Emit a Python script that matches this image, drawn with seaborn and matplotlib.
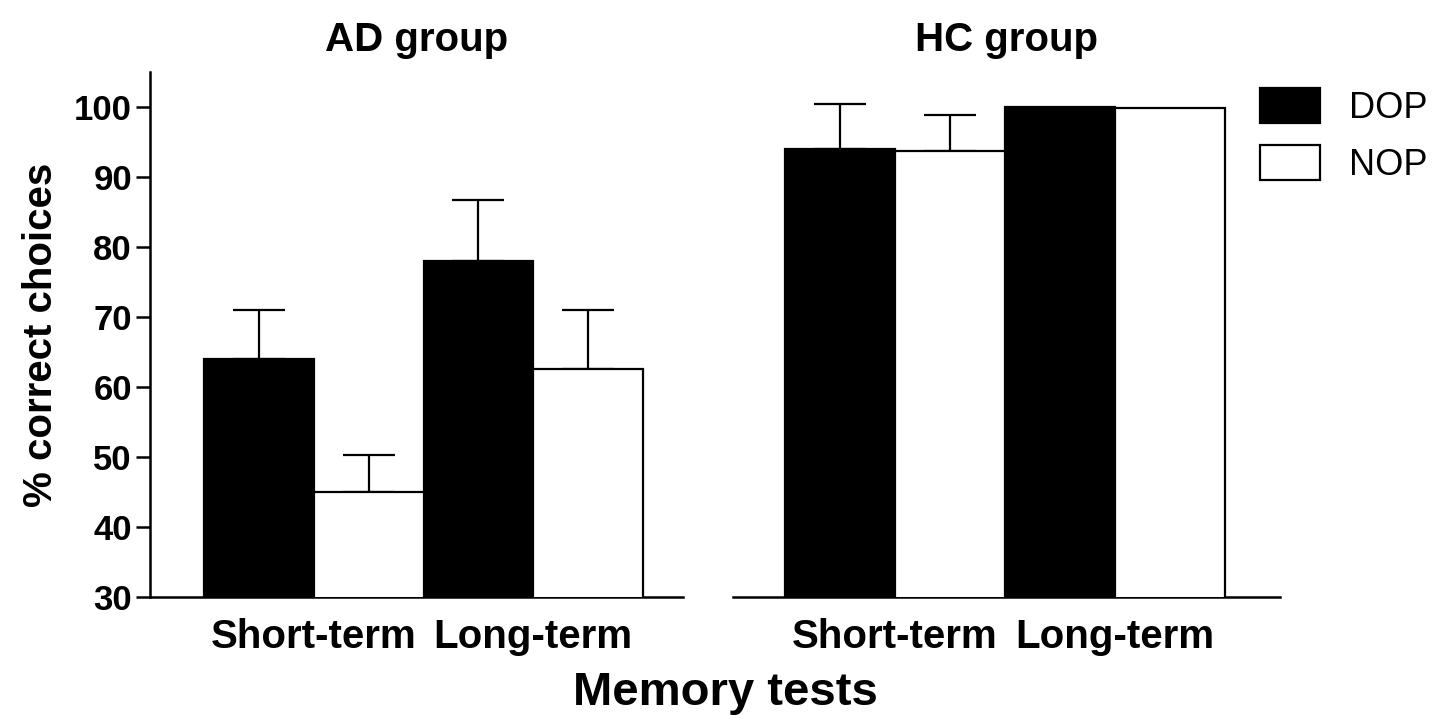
import numpy as np
import pandas as pd
import matplotlib
matplotlib.use("Agg")
import matplotlib.pyplot as plt
import seaborn as sns
from matplotlib.patches import Patch

groups = ["AD group", "HC group"]
tests = ["Short-term", "Long-term"]
conditions = ["DOP", "NOP"]

ad_dop = [64.0, 78.0]
ad_nop = [45.0, 62.5]
hc_dop = [94.0, 100.0]
hc_nop = [93.7, 99.8]

ad_dop_err = [7.0, 8.7]
ad_nop_err = [5.3, 8.5]
hc_dop_err = [6.4, 0.0]
hc_nop_err = [5.2, 0.0]

yticks = [30, 40, 50, 60, 70, 80, 90, 100]

values = {("AD group", "DOP"): ad_dop, ("AD group", "NOP"): ad_nop,
          ("HC group", "DOP"): hc_dop, ("HC group", "NOP"): hc_nop}
errors = {("AD group", "DOP"): ad_dop_err, ("AD group", "NOP"): ad_nop_err,
          ("HC group", "DOP"): hc_dop_err, ("HC group", "NOP"): hc_nop_err}

rows = []
for g in groups:
    for c in conditions:
        for t, v, e in zip(tests, values[(g, c)], errors[(g, c)]):
            rows.append({"group": g, "test": t, "cond": c, "value": v, "err": e})
df = pd.DataFrame(rows)

sns.set_style("ticks")
plt.rcParams["font.family"] = ["Liberation Sans", "DejaVu Sans"]
plt.rcParams["text.color"] = "black"
plt.rcParams["axes.labelcolor"] = "black"
plt.rcParams["xtick.color"] = "black"
plt.rcParams["ytick.color"] = "black"
plt.rcParams["axes.edgecolor"] = "black"

fig = plt.figure(figsize=(14.5, 7.15), dpi=100)
H = 715.0
W = 1450.0
bottom = 1 - 597 / H
top = 1 - 72 / H
ax1 = fig.add_axes([150 / W, bottom, (683 - 150) / W, top - bottom])
ax2 = fig.add_axes([733 / W, bottom, (1280 - 733) / W, top - bottom])

palette = {"DOP": "black", "NOP": "white"}
xlims = [(-0.746, 1.682), (-0.736, 1.75)]

for ax, g, xl in zip([ax1, ax2], groups, xlims):
    sub = df[df["group"] == g]
    sns.barplot(data=sub, x="test", y="value", hue="cond", order=tests,
                hue_order=conditions, palette=palette, width=1.0, gap=0,
                saturation=1, edgecolor="black", linewidth=1.6,
                errorbar=None, legend=False, ax=ax, zorder=3)
    for cont, c in zip(ax.containers, conditions):
        for bar, t in zip(cont, tests):
            r = sub[(sub["cond"] == c) & (sub["test"] == t)].iloc[0]
            if r["err"] > 0:
                xc = bar.get_x() + bar.get_width() / 2
                ax.errorbar([xc], [r["value"]], yerr=[[0], [r["err"]]],
                            fmt="none", ecolor="black", elinewidth=1.6,
                            capsize=19, capthick=1.6, zorder=2)
    ax.set_ylim(30, 105)
    ax.set_xlim(*xl)
    ax.set_xlabel("")
    ax.set_ylabel("")
    ax.set_title(g, fontsize=29, fontweight="bold", pad=15, color="black")
    for s in ["top", "right"]:
        ax.spines[s].set_visible(False)
    for s in ["left", "bottom"]:
        ax.spines[s].set_linewidth(1.8)
        ax.spines[s].set_color("black")
    ax.tick_params(axis="x", length=0, pad=15, labelsize=29, labelcolor="black")
    for lab in ax.get_xticklabels():
        lab.set_fontweight("bold")

ax1.set_yticks(yticks)
ax1.set_yticklabels([str(v) for v in yticks], fontsize=25, fontweight="bold")
ax1.tick_params(axis="y", length=10, width=1.8, pad=3, labelcolor="black")
ax1.set_ylabel("% correct choices", fontsize=29, fontweight="bold",
               labelpad=10, color="black")

ax2.spines["left"].set_visible(False)
ax2.tick_params(axis="y", left=False, labelleft=False)

fig.text(0.5, 1 - 693 / H, "Memory tests", fontsize=34, fontweight="bold",
         ha="center", va="center", color="black")

handles = [Patch(facecolor="black", edgecolor="black", linewidth=1.6),
           Patch(facecolor="white", edgecolor="black", linewidth=1.6)]
ax2.legend(handles=handles, labels=conditions, loc="upper left",
           bbox_to_anchor=(1260 / W, 1 - 88 / H), bbox_transform=fig.transFigure,
           frameon=False, fontsize=26, handlelength=1.67, handleheight=1.1,
           labelspacing=0.55, handletextpad=0.8, borderpad=0, borderaxespad=0,
           labelcolor="black")

fig.savefig("out.png", dpi=100)
